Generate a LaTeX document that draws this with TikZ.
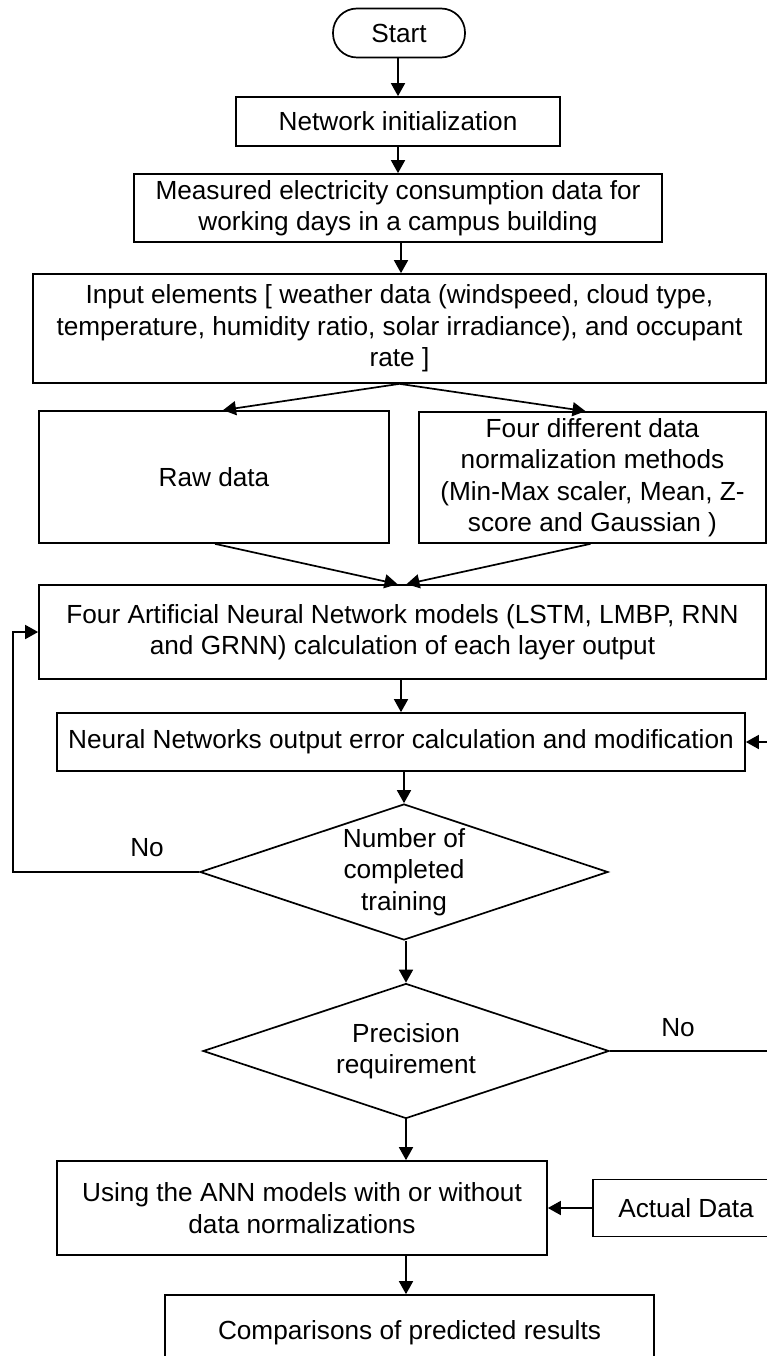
\documentclass[tikz,border=0pt]{standalone}
\usepackage{fontspec}
\setmainfont{Liberation Sans}
\usetikzlibrary{shapes.geometric,arrows.meta}
\begin{document}
\begin{tikzpicture}[x=1pt,y=-1pt,
  every node/.style={font=\fontsize{26.2}{31.5}\selectfont, align=center},
  box/.style={draw, line width=1.7pt, rectangle, inner sep=0pt},
  term/.style={draw, line width=1.7pt, rectangle, rounded corners=24pt, inner sep=0pt},
  dec/.style={draw, line width=1.7pt, diamond, inner sep=0pt},
  arr/.style={line width=1.7pt, -{Triangle[length=13pt,width=14pt]}},
  lbl/.style={inner sep=0pt}
]
\clip (0,0) rectangle (767,1356);
\fill[white] (0,0) rectangle (767,1356);

\node[term, minimum width=132pt, minimum height=49pt] (start) at (399,33) {Start};
\node[box, minimum width=324pt, minimum height=49pt] (init) at (398,121.5) {Network initialization};
\node[box, minimum width=528pt, minimum height=68pt] (meas) at (398,208) {Measured electricity consumption data for\\working days in a campus building};
\node[box, minimum width=733pt, minimum height=109pt] (input) at (399.5,328.5) {Input elements [ weather data (windspeed, cloud type,\\temperature, humidity ratio, solar irradiance), and occupant\\rate ]};
\node[box, minimum width=350pt, minimum height=132pt] (raw) at (214,477) {Raw data};
\node[box, minimum width=347pt, minimum height=131pt] (norm) at (592.5,477.5) {Four different data\\normalization methods\\(Min-Max scaler, Mean, Z-\\score and Gaussian )};
\node[box, minimum width=727pt, minimum height=94pt] (ann) at (402.5,632) {Four Artificial Neural Network models (LSTM, LMBP, RNN\\and GRNN) calculation of each layer output};
\node[box, minimum width=688pt, minimum height=58pt] (nn) at (401,742) {Neural Networks output error calculation and modification};
\node[dec, minimum width=408pt, minimum height=136pt, label={[align=center]center:Number of\\completed\\training}] (d1) at (404,872) {};
\node[dec, minimum width=406pt, minimum height=135pt, label={[align=center]center:Precision\\requirement}] (d2) at (406,1051) {};
\node[box, minimum width=490pt, minimum height=94pt] (use) at (302,1208) {Using the ANN models with or without\\data normalizations};
\node[box, minimum width=186pt, minimum height=57pt] (actual) at (686,1208) {Actual Data};
\node[box, minimum width=489pt, minimum height=75pt] (comp) at (409.5,1332.5) {Comparisons of predicted results};

\node[lbl] (no1) at (147,848) {No};
\node[lbl] (no2) at (678,1028) {No};

\coordinate (loopL) at (13,872);
\coordinate (loopR) at (800,1051);

\draw[arr] (start.south -| init.north) -- (init.north);
\draw[arr] (init.south) -- (init.south |- meas.north);
\draw[arr] ([xshift=3pt]meas.south) -- ([xshift=3pt]meas.south |- input.north);
\draw[arr] (input.south) -- ([xshift=9pt]raw.north);
\draw[arr] (input.south) -- ([xshift=-7pt]norm.north);
\draw[arr] ([xshift=1pt]raw.south) -- ([xshift=-5pt]ann.north);
\draw[arr] ([xshift=-2pt]norm.south) -- ([xshift=4pt]ann.north);
\draw[arr] (nn.north |- ann.south) -- (nn.north);
\draw[arr] (d1.north |- nn.south) -- (d1.north);
\draw[arr] (d1.west) -- (loopL) |- (ann.west);
\draw[arr] (d2.north |- d1.south) -- (d2.north);
\draw[arr] (d2.east) -- (loopR) |- (nn.east);
\draw[arr] (d2.south) -- (d2.south |- use.north);
\draw[arr] (actual.west) -- (actual.west -| use.east);
\draw[arr] (use.south -| d2.south) -- (d2.south |- comp.north);
\end{tikzpicture}
\end{document}
